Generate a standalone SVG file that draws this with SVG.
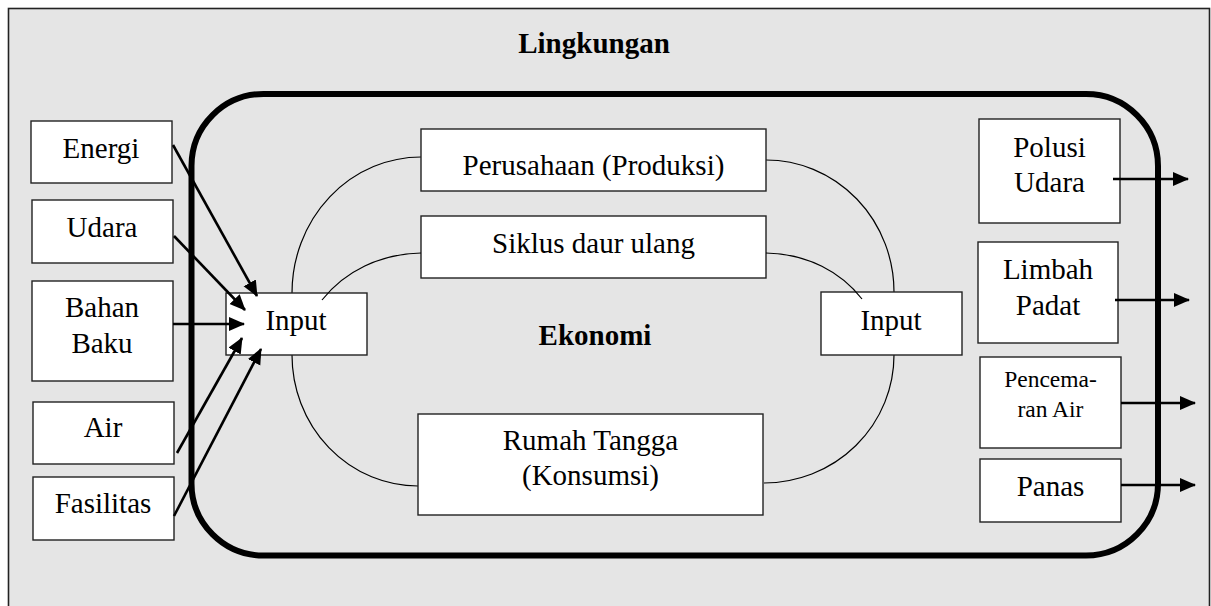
<svg xmlns="http://www.w3.org/2000/svg" width="1211" height="606" viewBox="0 0 1211 606">
<style>
.box{fill:#fff;stroke:#222;stroke-width:1.4}
text{font-family:'Liberation Serif','Times New Roman','DejaVu Serif',serif;fill:#000;text-anchor:middle}
.t{font-size:29px}
.ts{font-size:23.5px}
.b{font-weight:bold}
.arc{fill:none;stroke:#000;stroke-width:1.2}
.arr{fill:none;stroke:#000;stroke-width:2.6;marker-end:url(#ah)}
</style>
<defs>
<marker id="ah" markerUnits="userSpaceOnUse" markerWidth="17" markerHeight="15" refX="15" refY="7" orient="auto">
<path d="M0,0 L16,7 L0,14 z" fill="#000"/>
</marker>
</defs>
<g id="lingkungan">
<rect x="8.5" y="8.5" width="1201" height="620" fill="#e5e5e5" stroke="#222" stroke-width="1.6"/>
<text class="t b" x="594" y="53" font-family="Liberation Serif, serif">Lingkungan</text>
</g>
<g id="ekonomi">
<rect x="191.5" y="94" width="966.5" height="461.5" rx="72" ry="72" fill="none" stroke="#000" stroke-width="6"/>
<text class="t b" x="595" y="345" font-family="Liberation Serif, serif">Ekonomi</text>
</g>
<g id="cycle-arcs">
<path class="arc" d="M292,293 A129,136 0 0 1 421,157"/>
<path class="arc" d="M766,160 A128,132 0 0 1 894,293"/>
<path class="arc" d="M292,355 A126,131 0 0 0 418,486"/>
<path class="arc" d="M894,355 A130,128 0 0 1 764,483"/>
</g>
<g id="energi"><rect class="box" x="31" y="121" width="141" height="62"/><text class="t" x="101" y="158" font-family="Liberation Serif, serif">Energi</text></g>
<g id="udara"><rect class="box" x="32" y="200" width="141" height="63"/><text class="t" x="102" y="237" font-family="Liberation Serif, serif">Udara</text></g>
<g id="bahan-baku"><rect class="box" x="32" y="281" width="141" height="100"/><text class="t" x="102" y="317" font-family="Liberation Serif, serif">Bahan</text><text class="t" x="102" y="353" font-family="Liberation Serif, serif">Baku</text></g>
<g id="air"><rect class="box" x="33" y="402" width="141" height="62"/><text class="t" x="103" y="437" font-family="Liberation Serif, serif">Air</text></g>
<g id="fasilitas"><rect class="box" x="33" y="477" width="141" height="63"/><text class="t" x="103" y="513" font-family="Liberation Serif, serif">Fasilitas</text></g>
<g id="input-kiri"><rect class="box" x="226" y="293" width="141" height="62"/><text class="t" x="296" y="330" font-family="Liberation Serif, serif">Input</text></g>
<g id="input-kanan"><rect class="box" x="821" y="292" width="141" height="63"/><text class="t" x="891" y="330" font-family="Liberation Serif, serif">Input</text></g>
<g id="perusahaan"><rect class="box" x="421" y="129" width="345" height="62"/><text class="t" x="593.5" y="175" font-family="Liberation Serif, serif">Perusahaan (Produksi)</text></g>
<g id="siklus"><rect class="box" x="421" y="216" width="345" height="62"/><text class="t" x="593.5" y="253" font-family="Liberation Serif, serif">Siklus daur ulang</text></g>
<g id="rumah-tangga"><rect class="box" x="418" y="414" width="345" height="101"/><text class="t" x="590.5" y="450" font-family="Liberation Serif, serif">Rumah Tangga</text><text class="t" x="590.5" y="485" font-family="Liberation Serif, serif">(Konsumsi)</text></g>
<g id="polusi-udara"><rect class="box" x="979" y="119" width="141" height="104"/><text class="t" x="1049.5" y="157" font-family="Liberation Serif, serif">Polusi</text><text class="t" x="1049.5" y="192" font-family="Liberation Serif, serif">Udara</text></g>
<g id="limbah-padat"><rect class="box" x="978" y="242" width="140" height="101"/><text class="t" x="1048" y="279" font-family="Liberation Serif, serif">Limbah</text><text class="t" x="1048" y="315" font-family="Liberation Serif, serif">Padat</text></g>
<g id="pencemaran-air"><rect class="box" x="980" y="357" width="141" height="91"/><text class="ts" x="1050.5" y="387" font-family="Liberation Serif, serif">Pencema-</text><text class="ts" x="1050.5" y="417" font-family="Liberation Serif, serif">ran Air</text></g>
<g id="panas"><rect class="box" x="980" y="459" width="141" height="63"/><text class="t" x="1050.5" y="496" font-family="Liberation Serif, serif">Panas</text></g>
<g id="connectors">
<path class="arc" d="M421,253 C380,254 345,271 322,300"/>
<path class="arc" d="M766,253 C808,254 841,272 862,299"/>
<line class="arr" x1="173" y1="145" x2="257" y2="296"/>
<line class="arr" x1="174" y1="236" x2="245" y2="310"/>
<line class="arr" x1="173" y1="324" x2="244" y2="324"/>
<line class="arr" x1="177" y1="453" x2="242" y2="338"/>
<line class="arr" x1="174" y1="516" x2="261" y2="349"/>
<line class="arr" x1="1113" y1="179" x2="1188" y2="179"/>
<line class="arr" x1="1115" y1="300" x2="1189" y2="300"/>
<line class="arr" x1="1121" y1="403" x2="1195" y2="403"/>
<line class="arr" x1="1121" y1="485" x2="1195" y2="485"/>
</g>
</svg>
